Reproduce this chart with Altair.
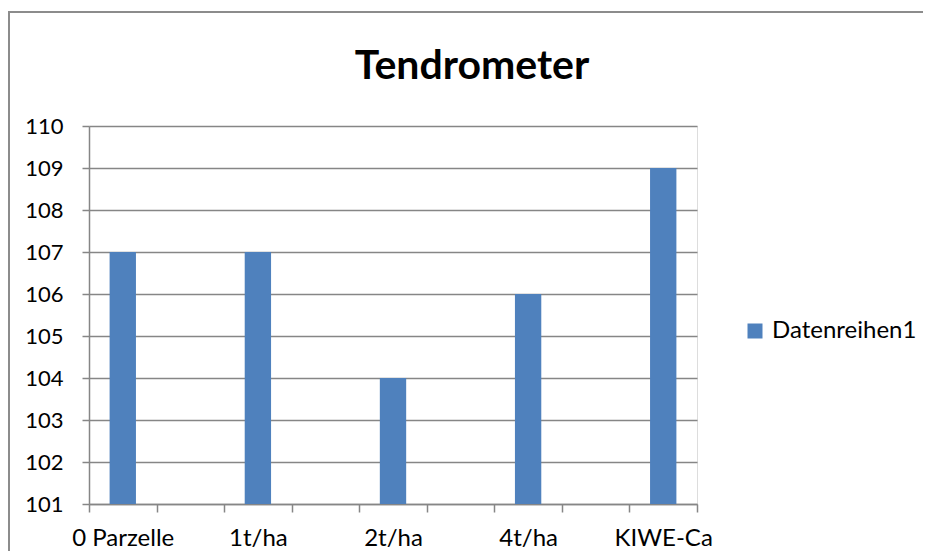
import altair as alt
import pandas as pd

categories = ["0 Parzelle", " ", "1t/ha", "  ", "2t/ha", "   ", "4t/ha", "    ", "KIWE-Ca"]
values = [107, None, 107, None, 104, None, 106, None, 109]
series_name = "Datenreihen1"
y_ticks = [101, 102, 103, 104, 105, 106, 107, 108, 109, 110]

df = pd.DataFrame({"cat": categories, "val": values, "series": [series_name] * len(categories)})

FONT = "Lato"
GRID = "#868686"

bars = alt.Chart(df).mark_bar(color="#4F81BD", width=alt.RelativeBandSize(0.39)).encode(
    x=alt.X("cat:N", sort=categories,
            scale=alt.Scale(paddingInner=0, paddingOuter=0),
            axis=alt.Axis(title=None, labelAngle=0, tickBand="extent", tickSize=8,
                          tickColor=GRID, domainColor=GRID, domainWidth=1.5, tickWidth=1.5,
                          labelFont=FONT, labelFontSize=24, labelColor="#000000",
                          labelPadding=14, grid=False)),
    y=alt.Y("val:Q", scale=alt.Scale(domain=[101, 110], zero=False, nice=False),
            axis=alt.Axis(title=None, values=y_ticks, tickSize=7, tickColor=GRID,
                          domainColor=GRID, domainWidth=1.5, tickWidth=1.5,
                          gridColor=GRID, gridWidth=1.5, gridOpacity=1,
                          labelFont=FONT, labelFontSize=22, labelColor="#000000",
                          labelPadding=19)),
    y2=alt.datum(101),
    color=alt.Color("series:N", scale=alt.Scale(range=["#4F81BD"]),
                    legend=alt.Legend(title=None, orient="none", legendX=654, legendY=193,
                                      symbolType="square", symbolSize=225, symbolStrokeWidth=0,
                                      labelFont=FONT, labelFontSize=24, labelColor="#000000",
                                      labelOffset=5)),
)

frame = alt.Chart(alt.Data(values=[{}])).mark_rect(fill=None, stroke="#8c8c8c", strokeWidth=2).encode(
    x=alt.value(-80), x2=alt.value(1000), y=alt.value(-114), y2=alt.value(480)
)

chart = alt.layer(frame, bars).properties(
    width=608, height=378,
    title=alt.Title("Tendrometer", font=FONT, fontSize=41, fontWeight="bold", color="#000000",
                    anchor="middle", frame="group", baseline="alphabetic", dx=79, offset=-109),
    padding={"left": 81, "top": 118, "right": 226, "bottom": 47},
    autosize=alt.AutoSizeParams(type="none"),
).configure_view(stroke=None).configure(background="white")

chart.save("out.html", embed_options={"renderer": "svg", "actions": False})
